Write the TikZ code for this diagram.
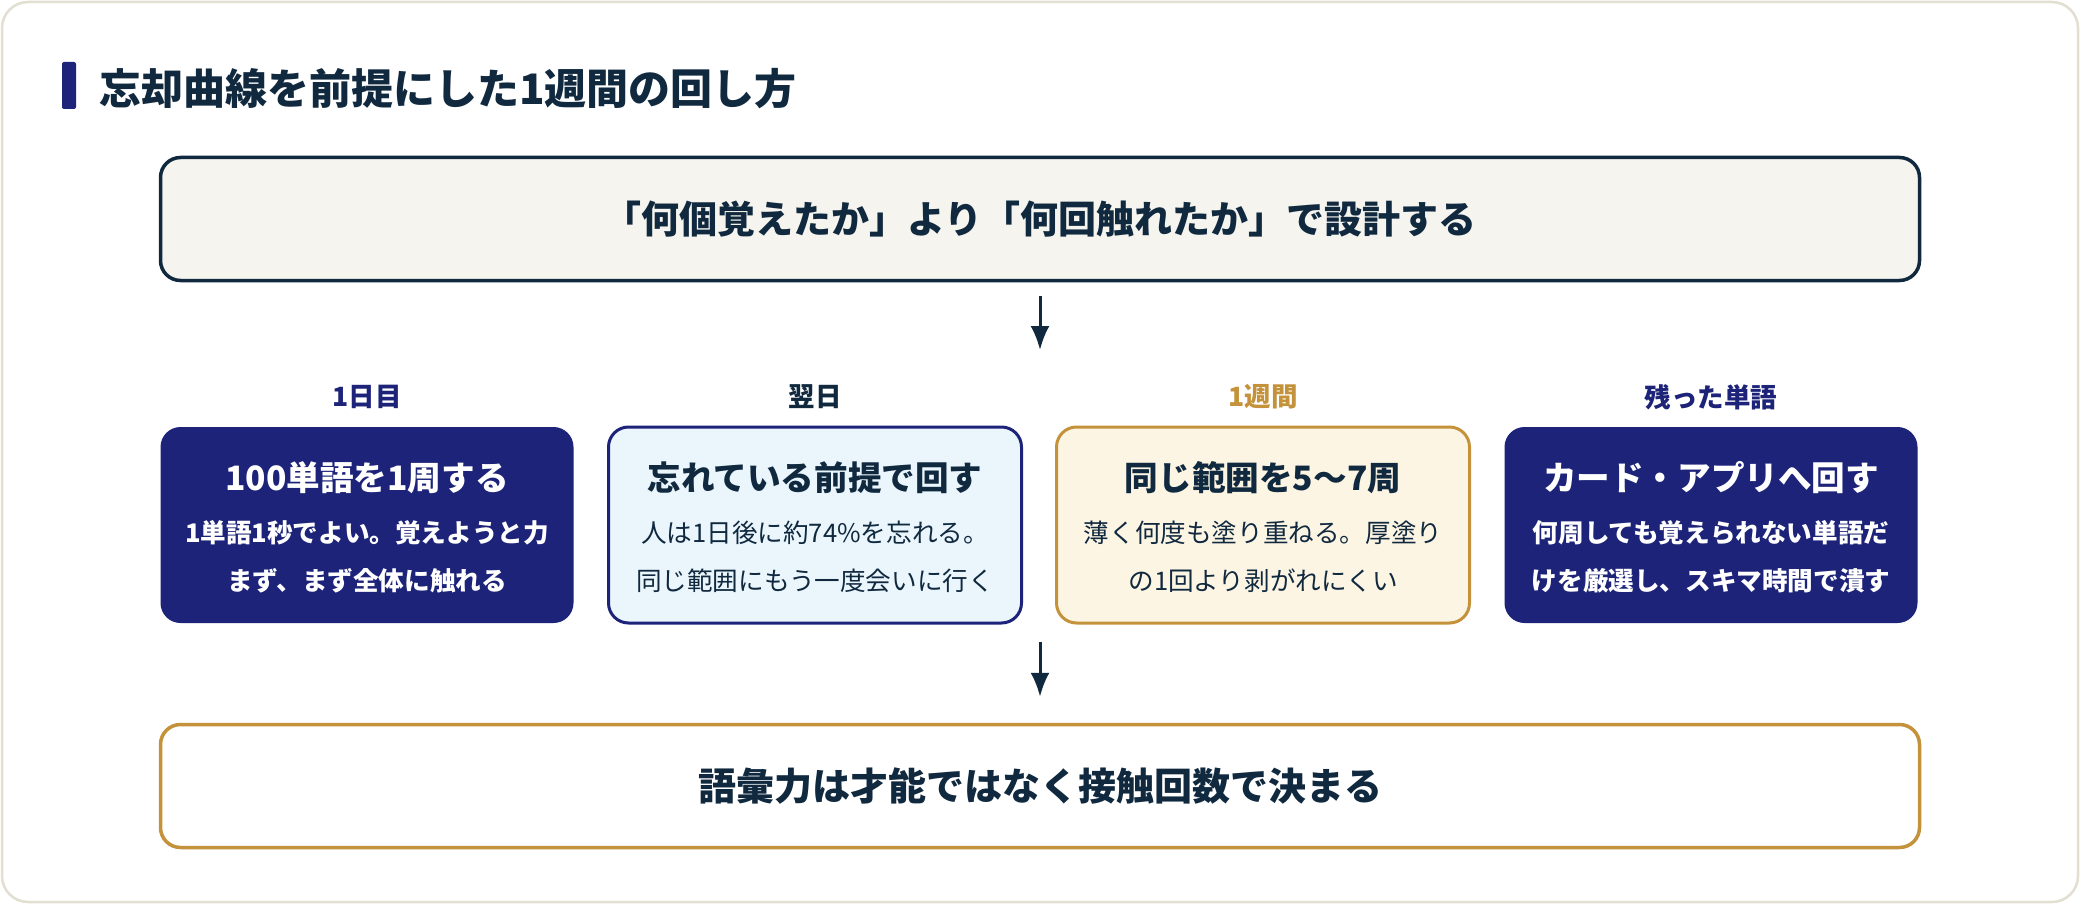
\documentclass[tikz,border=0pt]{standalone}
\usepackage{fontspec}
\setmainfont{Noto Sans CJK JP}
\usetikzlibrary{arrows.meta}
\definecolor{ink}{HTML}{10293F}
\definecolor{navy}{HTML}{1C2378}
\definecolor{gold}{HTML}{C4923A}
\definecolor{cardline}{HTML}{E2DFD1}
\definecolor{paper}{HTML}{F5F4EE}
\definecolor{skyfill}{HTML}{EAF6FC}
\definecolor{creamfill}{HTML}{FDF5E4}
\newcommand{\fs}[2]{\fontsize{#1}{#2}\selectfont}
\tikzset{
  banner/.style={draw=#1, line width=3.5pt, rounded corners=20pt, fill=white,
    minimum width=1759pt, minimum height=123pt, inner sep=0pt},
  stagebox/.style={rounded corners=20pt, minimum width=413pt, minimum height=196pt, inner sep=0pt},
  darkbox/.style={stagebox, fill=navy},
  lightbox/.style={stagebox, draw=#1, line width=3pt},
  stagelabel/.style={font=\fs{26.5}{30}\bfseries, text=#1},
  stagetitle/.style={font=\fs{33.6}{40}\bfseries, text=#1},
  stagebody/.style={font=\fs{25.6}{48}, text=#1, align=center},
  arr/.style={draw=ink, line width=3pt, -{Latex[length=24pt,width=19pt]}},
}
\begin{document}
\begin{tikzpicture}[x=1pt,y=-1pt]
\useasboundingbox (0,0) rectangle (2080,904);
% outer card
\draw[cardline, line width=2.5pt, fill=white, rounded corners=26pt] (2,2) rectangle (2078,902);
% heading with accent bar
\fill[navy, rounded corners=2pt] (62,62) rectangle (76,109) ;
\node[anchor=west, font=\fs{42}{50}\bfseries, text=ink, inner sep=0pt] (heading) at (99,89)
  {忘却曲線を前提にした1週間の回し方};
% top banner
\node[banner=ink, fill=paper, font=\fs{38}{44}\bfseries, text=ink] (top) at (1040,219)
  {「何個覚えたか」より「何回触れたか」で設計する};
\coordinate (a1end) at (1040,350);
\draw[arr] (top.south) ++(0,14) -- (a1end);
% stage labels
\node[stagelabel=navy] (l1) at (367,397) {1日目};
\node[stagelabel=ink] (l2) at (815,397) {翌日};
\node[stagelabel=gold] (l3) at (1263,397) {1週間};
\node[stagelabel=navy] (l4) at (1711,397) {残った単語};
% stage boxes
\node[darkbox] (b1) at (367,525) {};
\node[lightbox=navy, fill=skyfill] (b2) at (815,525) {};
\node[lightbox=gold, fill=creamfill] (b3) at (1263,525) {};
\node[darkbox] (b4) at (1711,525) {};
% box titles
\node[stagetitle=white] (t1) at (367,478) {100単語を1周する};
\node[stagetitle=ink] (t2) at (815,478) {忘れている前提で回す};
\node[stagetitle=ink] (t3) at (1263,478) {同じ範囲を5〜7周};
\node[stagetitle=white] (t4) at (1711,478) {カード・アプリへ回す};
% box bodies
\node[stagebody=white, font=\fs{25.6}{48}\bfseries] (d1) at (367,557) {1単語1秒でよい。覚えようと力\\まず、まず全体に触れる};
\node[stagebody=ink] (d2) at (815,557) {人は1日後に約74\%を忘れる。\\同じ範囲にもう一度会いに行く};
\node[stagebody=ink] (d3) at (1263,557) {薄く何度も塗り重ねる。厚塗り\\の1回より剥がれにくい};
\node[stagebody=white, font=\fs{25.6}{48}\bfseries] (d4) at (1711,557) {何周しても覚えられない単語だ\\けを厳選し、スキマ時間で潰す};
% bottom banner
\node[banner=gold, font=\fs{38}{44}\bfseries, text=ink] (bottom) at (1040,786)
  {語彙力は才能ではなく接触回数で決まる};
\coordinate (a2start) at (1040,642);
\draw[arr, shorten >=26pt] (a2start) -- (bottom.north);
\end{tikzpicture}
\end{document}
